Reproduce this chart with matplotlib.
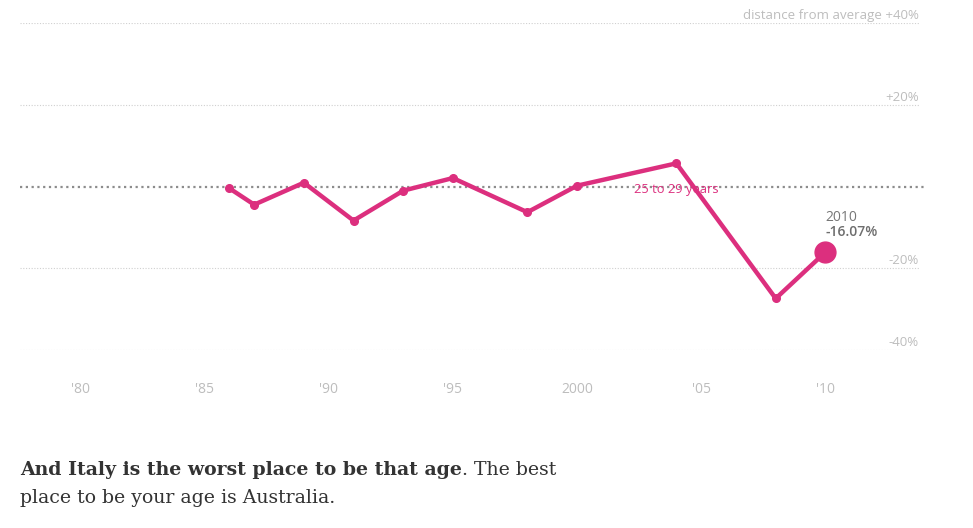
import matplotlib.pyplot as plt

years = [1986, 1987, 1989, 1991, 1993, 1995, 1998, 2000, 2004, 2008, 2010]
distance = [-0.44, -4.44, 0.93, -8.34, -1.02, 2.07, -6.29, 0.2, 5.66, -27.4, -16.07]

grid_values = [40, 20, -20, -40]
grid_labels = ["distance from average +40%", "+20%", "-20%", "-40%"]
tick_years = [1980, 1985, 1990, 1995, 2000, 2005, 2010]
tick_labels = ["'80", "'85", "'90", "'95", "2000", "'05", "'10"]

series_name = "25 to 29 years"
last_year = "2010"
last_value = "-16.07%"

pink = "#dc2f7e"
light = "#bdbdbd"
sans = "Open Sans"
serif = "DejaVu Serif"

fig = plt.figure(figsize=(9.73, 5.28), dpi=100)
ax = fig.add_axes([20 / 973, 1 - 350 / 528, 900 / 973, 327 / 528])
ax.set_xlim(1977.57, 2013.81)
ax.set_ylim(-40, 40)
for s in ax.spines.values():
    s.set_visible(False)
ax.set_yticks([])

for v, lab in zip(grid_values, grid_labels):
    ax.axhline(v, color="#d0d0d0", lw=0.8, ls=(0, (1, 1.5)), zorder=1)
    ax.annotate(lab, xy=(1, v), xycoords=("axes fraction", "data"),
                xytext=(-1, 1), textcoords="offset pixels",
                ha="right", va="bottom", fontsize=9.5, color=light, family=sans)
ax.axhline(0, xmax=1.008, color="#8c8c8c", lw=1.6, ls=(0, (1, 1.6)),
           clip_on=False, zorder=1)

ax.set_xticks(tick_years)
ax.set_xticklabels(tick_labels, family=sans, fontsize=10, color=light)
ax.tick_params(axis="x", length=0, pad=23)

ax.plot(years, distance, color=pink, lw=3.2, marker="o", ms=5.5,
        solid_joinstyle="round", zorder=3, clip_on=False)
ax.plot(years[-1:], distance[-1:], "o", color=pink, ms=15, zorder=4, clip_on=False)

ax.text(years[-3], -0.7, series_name, color=pink, fontsize=9.3, family=sans,
        ha="center", va="center", zorder=2)
ax.annotate(last_year, xy=(years[-1], distance[-1]), xytext=(0, 35),
            textcoords="offset pixels", fontsize=10, color="#767676", family=sans,
            ha="left", va="center")
ax.annotate(last_value, xy=(years[-1], distance[-1]), xytext=(0, 20),
            textcoords="offset pixels", fontsize=10, color="#6e6e6e", family=sans,
            fontweight="semibold", ha="left", va="center")

# caption, bold lead then regular text
t1 = fig.text(20 / 973, 1 - 470 / 528, "And Italy is the worst place to be that age",
              fontsize=13.6, fontweight="bold", family=serif, color="#333333",
              va="center")
fig.canvas.draw()
bb = t1.get_window_extent()
fig.text(bb.x1 / 973, 1 - 470 / 528, ". The best", fontsize=13.6, family=serif,
         color="#333333", va="center")
fig.text(20 / 973, 1 - 498 / 528, "place to be your age is Australia.", fontsize=13.6,
         family=serif, color="#333333", va="center")

fig.savefig("out.png", dpi=100)
